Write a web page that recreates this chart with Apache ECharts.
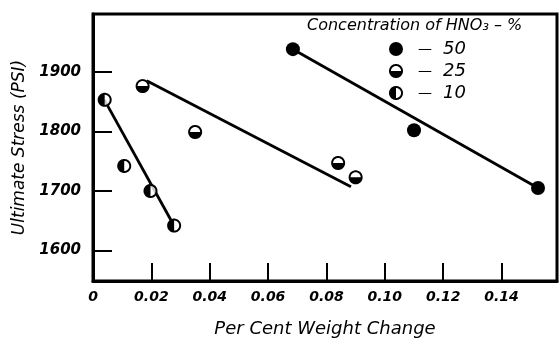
<!DOCTYPE html>
<html><head><meta charset="utf-8">
<script src="https://cdn.jsdelivr.net/npm/echarts@6/dist/echarts.min.js"></script>
<style>html,body{margin:0;padding:0;background:#fff}#c{width:559px;height:341px}</style>
</head><body><div id="c"></div>
<script>
// ---- data ----
const xTicks = [0, 0.02, 0.04, 0.06, 0.08, 0.10, 0.12, 0.14];
const xTickLabels = ['0', '0.02', '0.04', '0.06', '0.08', '0.10', '0.12', '0.14'];
const yTicks = [1600, 1700, 1800, 1900];
const yTickLabels = ['1600', '1700', '1800', '1900'];
const concentrations = ['50', '25', '10'];

const x50 = [0.0685, 0.110, 0.1525];
const y50 = [1938, 1802, 1705];
const x25 = [0.017, 0.035, 0.084, 0.090];
const y25 = [1876, 1799, 1747, 1723];
const x10 = [0.004, 0.0107, 0.0197, 0.0278];
const y10 = [1853, 1742, 1700, 1642];

const fit50X = [0.0685, 0.1525], fit50Y = [1938, 1705];
const fit25X = [0.0184, 0.0884], fit25Y = [1885, 1707];
const fit10X = [0.0039, 0.0274], fit10Y = [1853, 1645];

// ---- helpers ----
const FONT = 'DejaVu Sans';
const zip = (xs, ys) => xs.map((x, i) => [x, ys[i]]);
function arcPts(r, a0, a1, n) {
  const p = [];
  for (let i = 0; i <= n; i++) { const a = a0 + (a1 - a0) * i / n; p.push([r * Math.cos(a), r * Math.sin(a)]); }
  return p;
}
function poly(pts) { return 'M' + pts.map(p => p[0].toFixed(4) + ',' + p[1].toFixed(4)).join('L') + 'Z'; }
const outer = poly(arcPts(1, 0, 2 * Math.PI, 60));
const sym25 = 'path://' + outer + poly(arcPts(0.72, 0, -Math.PI, 30));          // top half white
const sym10 = 'path://' + outer + poly(arcPts(0.72, Math.PI / 2, -Math.PI / 2, 30)); // right half white

function fitLine(name, xs, ys) {
  return { name: name, type: 'line', data: zip(xs, ys), symbol: 'none', z: 2, silent: true,
    lineStyle: { color: '#000', width: 2.8 } };
}
function lookup(ticks, labels) {
  return v => { const i = ticks.findIndex(t => Math.abs(t - v) < 1e-9); return i >= 0 ? labels[i] : ''; };
}

const chart = echarts.init(document.getElementById('c'), null, { renderer: 'canvas' });
chart.setOption({
  animation: false,
  backgroundColor: '#fff',
  title: {
    text: 'Concentration of HNO\u2083 \u2013 %',
    left: 307, top: 18, padding: 0,
    textStyle: { fontFamily: FONT, fontSize: 16, fontStyle: 'italic', fontWeight: 'normal', color: '#000' }
  },
  legend: {
    data: concentrations, orient: 'vertical', left: 389, top: 40, padding: 0,
    itemWidth: 14, itemHeight: 14, itemGap: 4, selectedMode: false,
    formatter: n => '{d|\u2014}{n|' + n + '}',
    textStyle: {
      color: '#000',
      rich: {
        d: { fontFamily: FONT, fontSize: 14, color: '#000', padding: [0, 0, 0, 10] },
        n: { fontFamily: FONT, fontSize: 18, fontStyle: 'italic', color: '#000', padding: [0, 0, 0, 11], lineHeight: 18 }
      }
    }
  },
  grid: { left: 93, right: 2, top: 14, bottom: 60, show: true, borderColor: '#000', borderWidth: 3,
    containLabel: false, outerBoundsMode: 'none' },
  xAxis: {
    type: 'value', min: 0, max: 0.159,
    name: 'Per Cent Weight Change', nameLocation: 'middle', nameGap: 39,
    nameTextStyle: { fontFamily: FONT, fontSize: 18, fontStyle: 'italic', color: '#000' },
    axisLine: { show: true, onZero: false, lineStyle: { color: '#000', width: 3 } },
    axisTick: { show: true, inside: true, length: 18, customValues: xTicks, lineStyle: { color: '#000', width: 2 } },
    axisLabel: { show: true, margin: 9, customValues: xTicks, color: '#000', fontFamily: FONT, fontSize: 14,
      fontStyle: 'italic', fontWeight: 'bold', formatter: lookup(xTicks, xTickLabels) },
    splitLine: { show: false }
  },
  yAxis: {
    type: 'value', min: 1549, max: 1997,
    name: 'Ultimate Stress (PSI)', nameLocation: 'middle', nameGap: 61, nameRotate: 90,
    nameTextStyle: { fontFamily: FONT, fontSize: 17, fontStyle: 'italic', color: '#000' },
    axisLine: { show: true, onZero: false, lineStyle: { color: '#000', width: 3 } },
    axisTick: { show: true, inside: true, length: 19, customValues: yTicks, lineStyle: { color: '#000', width: 2 } },
    axisLabel: { show: true, margin: 12, customValues: yTicks, color: '#000', fontFamily: FONT, fontSize: 15,
      fontStyle: 'italic', fontWeight: 'bold', formatter: lookup(yTicks, yTickLabels) },
    splitLine: { show: false }
  },
  series: [
    fitLine('fit50', fit50X, fit50Y),
    fitLine('fit25', fit25X, fit25Y),
    fitLine('fit10', fit10X, fit10Y),
    { name: 'bg25', type: 'scatter', data: zip(x25, y25), symbol: 'circle', symbolSize: 13, z: 3, silent: true,
      itemStyle: { color: '#fff' } },
    { name: 'bg10', type: 'scatter', data: zip(x10, y10), symbol: 'circle', symbolSize: 13, z: 3, silent: true,
      itemStyle: { color: '#fff' } },
    { name: '50', type: 'scatter', data: zip(x50, y50), symbol: 'circle', symbolSize: 14, z: 4,
      itemStyle: { color: '#000', opacity: 1 } },
    { name: '25', type: 'scatter', data: zip(x25, y25), symbol: sym25, symbolSize: 14, z: 4,
      itemStyle: { color: '#000', opacity: 1 } },
    { name: '10', type: 'scatter', data: zip(x10, y10), symbol: sym10, symbolSize: 14, z: 4,
      itemStyle: { color: '#000', opacity: 1 } }
  ]
});
</script>
</body></html>
